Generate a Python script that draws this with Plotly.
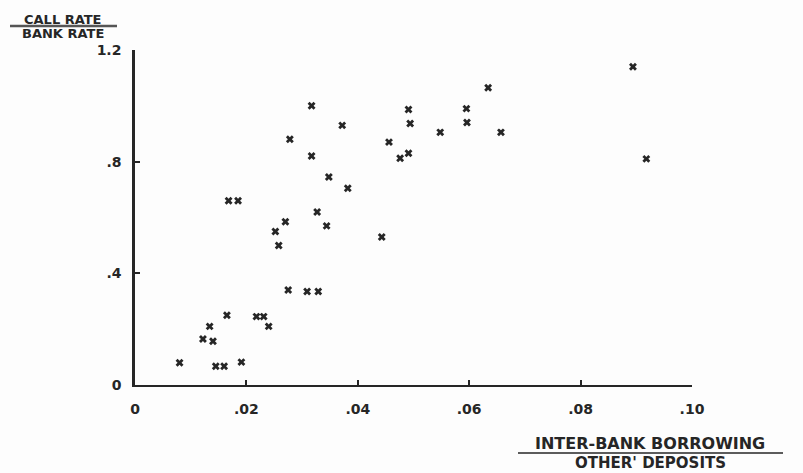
import plotly.graph_objects as go

# ratio of inter-bank borrowing to other deposits
borrow_ratio = [0.0317, 0.0372, 0.0278, 0.0456, 0.0317, 0.0348, 0.0382, 0.0168, 0.0185, 0.0327,
                0.0270, 0.0252, 0.0344, 0.0443, 0.0258, 0.0275, 0.0309, 0.0329, 0.0165, 0.0218,
                0.0231, 0.0240, 0.0134, 0.0122, 0.0140, 0.0080, 0.0145, 0.0160, 0.0191, 0.0634,
                0.0491, 0.0595, 0.0494, 0.0596, 0.0548, 0.0657, 0.0491, 0.0476, 0.0894, 0.0918]
# ratio of call rate to bank rate
rate_ratio = [1.00, 0.93, 0.88, 0.87, 0.82, 0.745, 0.705, 0.66, 0.66, 0.62,
              0.585, 0.55, 0.57, 0.53, 0.50, 0.34, 0.335, 0.335, 0.25, 0.245,
              0.245, 0.21, 0.21, 0.165, 0.157, 0.08, 0.067, 0.067, 0.082, 1.065,
              0.987, 0.99, 0.937, 0.94, 0.905, 0.905, 0.83, 0.812, 1.14, 0.81]

x_ticks = [0, 0.02, 0.04, 0.06, 0.08, 0.10]
x_tick_text = ["0", ".02", ".04", ".06", ".08", ".10"]
y_ticks = [0, 0.4, 0.8, 1.2]
y_tick_text = ["0", ".4", ".8", "1.2"]

INK = "#262626"
FONT = "DejaVu Sans"

fig = go.Figure()
fig.add_trace(go.Scatter(
    x=borrow_ratio, y=rate_ratio, mode="markers",
    marker=dict(symbol="x", size=7, color=INK, line=dict(width=0)),
    showlegend=False, hoverinfo="skip"))

fig.update_layout(
    width=803, height=473,
    margin=dict(l=135, r=111, t=50, b=88),
    paper_bgcolor="#fdfdfd", plot_bgcolor="#fdfdfd",
    xaxis=dict(range=[0, 0.10], tickvals=x_ticks, ticktext=x_tick_text,
               showgrid=False, zeroline=False, showline=True, linecolor=INK, linewidth=2,
               ticks="inside", ticklen=5, tickwidth=1.5, tickcolor=INK,
               tickfont=dict(family=FONT, size=14, color=INK, weight="bold"), ticklabelstandoff=10),
    yaxis=dict(range=[0, 1.2], tickvals=y_ticks, ticktext=y_tick_text,
               showgrid=False, zeroline=False, showline=True, linecolor=INK, linewidth=2.5,
               ticks="inside", ticklen=5, tickwidth=1.5, tickcolor=INK,
               tickfont=dict(family=FONT, size=14, color=INK, weight="bold"), ticklabelstandoff=8),
)

# y-axis title as a fraction: CALL RATE / BANK RATE
fig.add_annotation(xref="paper", yref="paper", x=(63 - 135) / 557, y=(385 - 19) / 335,
                   text="<b>CALL RATE</b>", showarrow=False, xanchor="center", yanchor="middle",
                   font=dict(family=FONT, size=13, color=INK))
fig.add_annotation(xref="paper", yref="paper", x=(63 - 135) / 557, y=(385 - 34) / 335,
                   text="<b>BANK RATE</b>", showarrow=False, xanchor="center", yanchor="middle",
                   font=dict(family=FONT, size=13, color=INK))
fig.add_shape(type="line", xref="paper", yref="paper",
              x0=(10 - 135) / 557, x1=(117 - 135) / 557,
              y0=(385 - 26) / 335, y1=(385 - 26) / 335,
              line=dict(color="#555", width=2.5))

# x-axis title as a fraction
fig.add_annotation(xref="paper", yref="paper", x=(650 - 135) / 557, y=(385 - 443) / 335,
                   text="<b>INTER-BANK BORROWING</b>", showarrow=False, xanchor="center", yanchor="middle",
                   font=dict(family=FONT, size=16, color=INK))
fig.add_annotation(xref="paper", yref="paper", x=(650 - 135) / 557, y=(385 - 463) / 335,
                   text="<b>OTHER' DEPOSITS</b>", showarrow=False, xanchor="center", yanchor="middle",
                   font=dict(family=FONT, size=15, color=INK))
fig.add_shape(type="line", xref="paper", yref="paper",
              x0=(518 - 135) / 557, x1=(783 - 135) / 557,
              y0=(385 - 453) / 335, y1=(385 - 453) / 335,
              line=dict(color=INK, width=1.5))

fig.write_html("out.html")
